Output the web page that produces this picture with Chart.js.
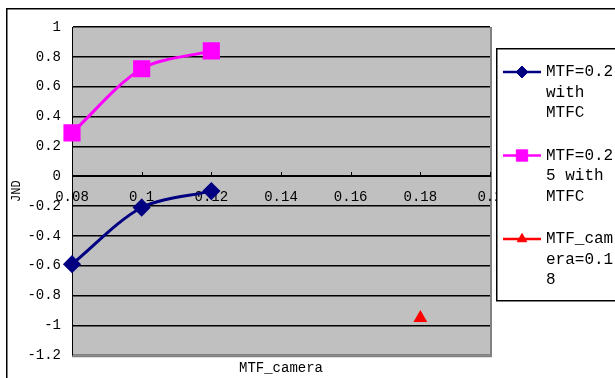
<!DOCTYPE html>
<html>
<head>
<meta charset="UTF-8">
<title>JND vs MTF_camera</title>
<script src="https://cdn.jsdelivr.net/npm/chart.js@4.4.0/dist/chart.umd.min.js"></script>
<style>
  html, body { margin: 0; padding: 0; background: #fff; }
  .wrap { position: relative; width: 615px; height: 378px; overflow: hidden; }
</style>
</head>
<body>
<div class="wrap"><canvas id="myChart"></canvas></div>
<script>
const xTicks = [0.08, 0.1, 0.12, 0.14, 0.16, 0.18, 0.2];
const yTicks = [-1.2, -1, -0.8, -0.6, -0.4, -0.2, 0, 0.2, 0.4, 0.6, 0.8, 1];
const mtfX = [0.08, 0.1, 0.12];
const mtf02 = [-0.59, -0.21, -0.10];
const mtf025 = [0.29, 0.72, 0.84];
const camX = [0.18];
const camY = [-0.95];
const seriesLabels = ['MTF=0.2 with MTFC', 'MTF=0.25 with MTFC', 'MTF_camera=0.18'];

const FONT = '"Liberation Mono", monospace';
const pts = (xs, ys) => xs.map((x, i) => ({x: x, y: ys[i]}));

// excel-ish wrapping: break at spaces, cut words that are too long
function wrap(text, n) {
  const lines = [];
  let cur = '';
  text.split(' ').forEach(w => {
    if (cur && (cur + ' ' + w).length <= n) { cur += ' ' + w; return; }
    if (cur) { lines.push(cur); cur = ''; }
    while (w.length > n) { lines.push(w.slice(0, n)); w = w.slice(n); }
    cur = w;
  });
  if (cur) lines.push(cur);
  return lines;
}

const frame = {
  id: 'frame',
  beforeDraw(chart) {
    const {ctx, chartArea: a} = chart;
    ctx.save();
    ctx.fillStyle = '#c0c0c0';
    ctx.fillRect(a.left, a.top, a.right - a.left, a.bottom - a.top);
    ctx.strokeStyle = '#808080';
    ctx.lineWidth = 2;
    ctx.beginPath();
    ctx.moveTo(a.right + 1, a.top);
    ctx.lineTo(a.right + 1, a.bottom + 1);
    ctx.lineTo(a.left, a.bottom + 1);
    ctx.stroke();
    ctx.strokeStyle = '#000';
    ctx.lineWidth = 1.5;
    ctx.strokeRect(6.75, 8.75, 700, 500);
    ctx.restore();
  },
  beforeDatasetsDraw(chart) {
    // small tick marks sit above the x axis
    const ctx = chart.ctx;
    const sx = chart.scales.x;
    const y0 = Math.round(chart.scales.y.getPixelForValue(0));
    ctx.save();
    ctx.strokeStyle = '#000';
    ctx.lineWidth = 1;
    xTicks.forEach(v => {
      const px = Math.round(sx.getPixelForValue(v)) + 0.5;
      ctx.beginPath();
      ctx.moveTo(px, y0 - 4);
      ctx.lineTo(px, y0);
      ctx.stroke();
    });
    ctx.restore();
  },
  afterDraw(chart) {
    const ctx = chart.ctx;
    ctx.save();
    ctx.fillStyle = '#fff';
    ctx.fillRect(496.75, 48.75, 200, 252);
    ctx.strokeStyle = '#000';
    ctx.lineWidth = 1.5;
    ctx.strokeRect(496.75, 48.75, 200, 252);
    ctx.font = '16px ' + FONT;
    ctx.textBaseline = 'middle';
    let y = 72;
    chart.data.datasets.forEach(ds => {
      ctx.strokeStyle = ds.borderColor;
      ctx.fillStyle = ds.backgroundColor;
      ctx.lineWidth = 2.5;
      ctx.beginPath();
      ctx.moveTo(503, y);
      ctx.lineTo(541, y);
      ctx.stroke();
      ctx.lineWidth = 1;
      Chart.helpers.drawPoint(ctx, {pointStyle: ds.pointStyle, radius: ds.legendRadius, rotation: 0, borderWidth: 1}, 522, y);
      ctx.fillStyle = '#000';
      const lines = wrap(ds.label, 7);
      lines.forEach((l, i) => ctx.fillText(l, 546, y + i * 20.5));
      y += lines.length * 20.5 + 22;
    });
    ctx.restore();
  }
};

const ctx = document.getElementById('myChart').getContext('2d');
const myChart = new Chart(ctx, {
  type: 'line',
  data: {
    datasets: [{
      label: seriesLabels[0],
      data: pts(mtfX, mtf02),
      borderColor: '#000080',
      backgroundColor: '#000080',
      borderWidth: 3,
      pointStyle: 'rectRot',
      pointRadius: 7,
      legendRadius: 6,
      tension: 0.3,
      clip: false
    }, {
      label: seriesLabels[1],
      data: pts(mtfX, mtf025),
      borderColor: '#ff00ff',
      backgroundColor: '#ff00ff',
      borderWidth: 3,
      pointStyle: 'rect',
      pointRadius: 10,
      legendRadius: 8,
      tension: 0.3,
      clip: false
    }, {
      label: seriesLabels[2],
      data: pts(camX, camY),
      borderColor: '#ff0000',
      backgroundColor: '#ff0000',
      borderWidth: 2.5,
      showLine: false,
      pointStyle: 'triangle',
      pointRadius: 5.5,
      legendRadius: 5.5,
      clip: false
    }]
  },
  options: {
    responsive: true,
    maintainAspectRatio: false,
    animation: false,
    layout: { padding: { left: 6, top: 27, right: 125, bottom: 1 } },
    elements: { point: { borderWidth: 1 } },
    plugins: {
      legend: { display: false },
      tooltip: { enabled: false },
      title: {
        display: true,
        text: 'MTF_camera',
        position: 'bottom',
        fullSize: false,
        color: '#000',
        font: { family: FONT, size: 14, weight: 'normal' },
        padding: { top: 5, bottom: 0 }
      }
    },
    scales: {
      x: {
        type: 'linear',
        position: { y: 0 },
        min: 0.08,
        max: 0.2,
        afterBuildTicks: s => { s.ticks = xTicks.map(v => ({value: v})); },
        grid: { drawOnChartArea: false, drawTicks: false },
        border: { color: '#000', width: 1 },
        ticks: {
          color: '#000',
          padding: 13,
          maxRotation: 0,
          font: { family: FONT, size: 14 },
          callback: v => String(+v.toFixed(2))
        }
      },
      y: {
        type: 'linear',
        min: -1.2,
        max: 1,
        afterBuildTicks: s => { s.ticks = yTicks.map(v => ({value: v})); },
        afterFit: s => { s.width = 66; },
        grid: {
          drawTicks: false,
          color: c => (c.tick && c.tick.value === -1.2) ? '#808080' : '#000',
          lineWidth: 1.5
        },
        border: { color: '#000', width: 1 },
        ticks: {
          color: '#000',
          padding: 11,
          font: { family: FONT, size: 14 },
          callback: v => String(+v.toFixed(1))
        },
        title: {
          display: true,
          text: 'JND',
          color: '#000',
          font: { family: FONT, size: 12 },
          padding: { top: 4, bottom: 0 }
        }
      }
    }
  },
  plugins: [frame]
});
</script>
</body>
</html>
